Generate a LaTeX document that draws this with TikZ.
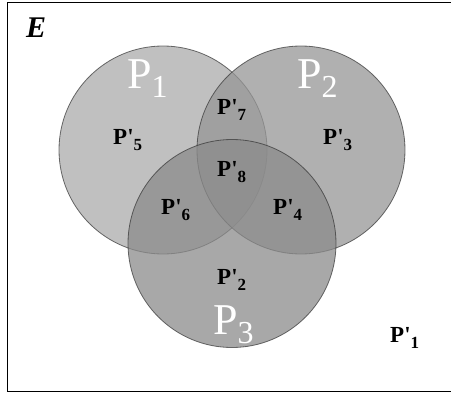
\documentclass[tikz,border=0pt]{standalone}
\usepackage{fontspec}
\setmainfont{Liberation Serif}
\definecolor{setone}{gray}{0.67}
\definecolor{settwo}{gray}{0.59}
\definecolor{setthree}{gray}{0.545}
\newcommand{\plab}[1]{P\textquotesingle\raisebox{-6pt}{\fontsize{17}{17}\selectfont #1}}
\newcommand{\biglab}[1]{P\raisebox{-9pt}{\fontsize{32}{32}\selectfont #1}}
\tikzset{
    vset/.style={circle, inner sep=0pt, minimum size=208pt, fill=#1, fill opacity=0.75,
        draw=black!80, draw opacity=0.7, line width=0.8pt},
    region/.style={anchor=base west, inner sep=0pt, font=\fontsize{23}{23}\selectfont\bfseries},
    setname/.style={anchor=base west, inner sep=0pt, text=white, font=\fontsize{44}{44}\selectfont}
}
\begin{document}
\begin{tikzpicture}[x=1pt, y=-1pt]
        \useasboundingbox (0,0) rectangle (451,394);
        \draw[line width=1.5pt] (7.5,2.7) rectangle (470,391.3);
        \node[anchor=base west, inner sep=0pt, font=\fontsize{30}{30}\selectfont\bfseries\itshape] (univ) at (26,37) {E};
        \node[vset=setone] (A) at (163,150) {};
        \node[vset=settwo] (B) at (301,150) {};
        \node[vset=setthree] (C) at (232,243.5) {};
        \node[setname] (nameA) at (127,88) {\biglab{1}};
        \node[setname] (nameB) at (297,88) {\biglab{2}};
        \node[setname] (nameC) at (213,334) {\biglab{3}};
        \node[region] (r7) at (217,114) {\plab{7}};
        \node[region] (r5) at (113,144) {\plab{5}};
        \node[region] (r3) at (323,144) {\plab{3}};
        \node[region] (r8) at (217,176) {\plab{8}};
        \node[region] (r6) at (161,214) {\plab{6}};
        \node[region] (r4) at (273,214) {\plab{4}};
        \node[region] (r2) at (217,284) {\plab{2}};
        \node[region] (r1) at (390,342) {\plab{1}};
    \end{tikzpicture}
\end{document}
